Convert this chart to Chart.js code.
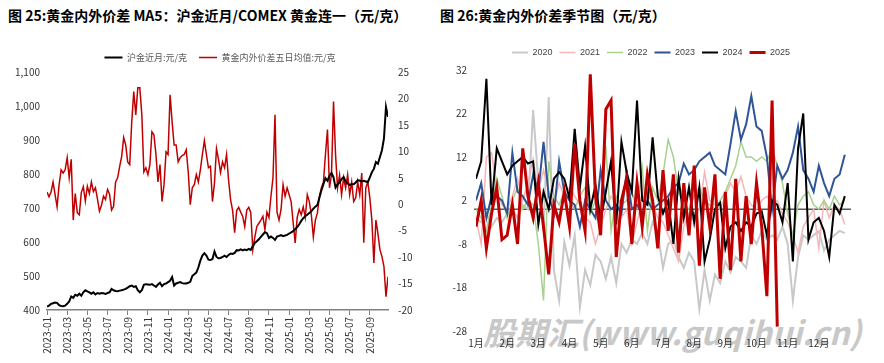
<!DOCTYPE html>
<html>
<head>
<meta charset="utf-8">
<script src="https://cdn.jsdelivr.net/npm/chart.js@4.4.1/dist/chart.umd.min.js"></script>
<style>
    body { margin: 0; background: #fff; width: 884px; height: 363px; position: relative; overflow: hidden; font-family: "Noto Sans CJK SC", sans-serif; }
    .title { position: absolute; top: 5px; font-size: 14px; font-weight: bold; color: #000; white-space: nowrap; }
    .box { position: absolute; top: 38px; height: 325px; }
    #wm { position: absolute; left: 483px; top: 308px; font-size: 32px; font-weight: bold; font-style: italic; color: #c8c8c8; white-space: nowrap; }
</style>
</head>
<body>
<div id="wm">股期汇(www.guqihui.cn)</div>
<div class="title" style="left:8px">图 25:黄金内外价差 MA5：沪金近月/COMEX 黄金连一（元/克）</div>
<div class="title" style="left:440px">图 26:黄金内外价差季节图（元/克）</div>
<div class="box" style="left:0;width:440px"><canvas id="spreadChart"></canvas></div>
<div class="box" style="left:452px;width:432px"><canvas id="seasonChart"></canvas></div>

<script>
// 图25: 从2023-01起每0.2个月一个点
const sampleStep = 0.2;
const shGoldNear = [
    410, 413, 418, 420, 422, 421, 414, 412, 411, 413,
    418, 425, 440, 436, 445, 442, 448, 442, 452, 458,
    455, 452, 448, 452, 446, 450, 448, 450, 449, 447,
    450, 452, 462, 458, 456, 455, 457, 458, 460, 462,
    466, 470, 472, 468, 470, 458, 452, 458, 474, 476,
    475, 474, 476, 472, 468, 475, 480, 470, 476, 478,
    482, 486, 497, 472, 478, 480, 482, 479, 478, 478,
    480, 483, 500, 505, 510, 525, 545, 560, 567, 560,
    548, 547, 550, 572, 556, 552, 553, 556, 560, 556,
    562, 566, 565, 568, 576, 575, 578, 575, 578, 576,
    580, 577, 588, 597, 602, 608, 615, 622, 629, 626,
    612, 616, 612, 606, 616, 618, 620, 617, 619, 621,
    625, 628, 632, 638, 644, 652, 662, 670, 676, 680,
    685, 690, 698, 704, 709, 730, 752, 770, 788, 780,
    795, 803, 790, 760, 770, 775, 785, 791, 778, 772,
    768, 770, 770, 775, 782, 780, 778, 780, 778, 776,
    790, 805, 815, 835, 830, 850, 870, 905, 997, 968
];
const spreadMA5 = [
    2.3, 1.4, 2.3, 4.2, 1.8, -0.5, 3.7, 6.5, 5.9, 6.5,
    8.8, 5.0, 8.5, -3.0, 2.0, -1.6, -2.0, 2.2, 3.3, 0.6,
    3.4, 2.0, 4.2, 2.4, 3.1, 1.0, -1.3, -0.2, 1.5, 0.9,
    2.8, 1.9, -1.1, -0.4, 4.2, 5.0, 7.1, 9.0, 12.6, 11.2,
    8.0, 7.5, 15.6, 21.3, 16.9, 22.0, 22.0, 16.9, 6.1, 6.9,
    5.6, 7.5, 13.7, 13.1, 9.4, 4.2, 7.5, 0.5, 3.7, 9.9,
    9.4, 20.7, 15.6, 11.2, 11.2, 8.0, 8.8, 9.2, 9.4, 10.3,
    6.1, -0.1, 3.1, 3.7, 5.6, 4.2, 6.5, 9.4, 12.0, 9.4,
    6.9, 7.2, 0.5, 4.0, 10.5, 8.5, 6.0, 8.0, 6.9, 9.4,
    4.5, 0.8, -1.2, -5.4, -1.2, -0.6, -1.5, -2.3, -4.2, -1.1,
    -0.6, -1.6, -8.6, -6.2, -4.2, -3.6, -3.0, -2.3, -4.8, -1.5,
    -2.5, 1.5, 5.0, 16.9, -1.5, -3.0, -1.0, 3.7, 1.5, 3.1,
    1.8, 0.5, -3.5, -7.3, -2.5, -1.0, -2.0, -0.5, -2.5, 1.8,
    0.5, -2.0, -6.2, -3.0, -1.7, 1.5, 3.1, 4.2, 9.4, 14.1,
    3.1, 5.6, 19.4, 9.4, 3.1, 5.5, 1.8, 5.0, 3.1, 5.6,
    1.8, 4.2, 0.5, 1.2, 4.2, 1.8, 5.9, -7.3, 3.1, 4.2,
    1.2, -3.0, -11.1, -3.0, -5.5, -8.6, -9.9, -11.8, -17.5, -13.7
];
const monthTicks = [0, 2, 4, 6, 8, 10, 12, 14, 16, 18, 20, 22, 24, 26, 28, 30, 32];

// 图26: 每月6个点
const seasonStep = 1 / 6;
const seasonLabels = ['2020', '2021', '2022', '2023', '2024', '2025'];
const seasonColors = ['#c8c8c8', '#f4b6b6', '#a9d18e', '#2f5597', '#000000', '#c00000'];
const seasonWidths = [2, 1.5, 1.5, 2, 2, 3];
const y2020 = [
    -2, -3, -1, -4, -2, -3, -1, 0, -2, 1, 0, 22.8,
    6, -5, 25.8, -14, -21, -7.5, -13, -6, -22.5, -14, -17.5, -10.5,
    -12, -16, -11, -17, -8, -10, -7, -8, -5.5, -8, -3, -5.5,
    -13.5, -8, -7, -11, -13.5, -10, -12, -23, -14, -21, -15, -17,
    -12, -14.5, -11, -12, -13.5, -6, -8, -5, -7, -6, -7, -4,
    -8, -21, -11, -6, -7, -6, -5, -9.5, -7, -6, -5, -5.5
];
const y2021 = [
    -2, -8, 12, 13, 4, 1, 0, 3, 7, 2, 6, 11.5,
    4, 9, 4, 1, 6, 3, 5, 3, 1, -2, -3, -8,
    -4, 0, 3, 1, -2, 0, -8, -3, 2, 4, 1, -2,
    -3, -6, -9, -12, -4, -1, -3, 0, 8.5, 2, 1, 0,
    3, 6, 4, 7.5, 3, 1, 0, 2, 3, 1, 2, -1,
    -3, -6, -10, -4, -2, 0, -9, 2, -2, 1, 0, -3.5
];
const y2022 = [
    0, -2, -5, 1, 7, 3, -2, 2, 5, 0, 2, 1,
    -8, -21, 11, 3, 1, 4, 2, 0, 3, 5, -1, 2,
    -1, 14.5, -5, 3, 1, 2, 4, 0, 9.5, -5, 5, 2,
    8, 16, 12, 4, 1, 0, 3, 5, 2, 1, 0, 2,
    4, 7, 10, 15.5, 12, 12, 11, 12, 11, 14, 10, 6,
    -1, -6, 1, 3, 4, 1, 0, 2, 0, 3, 1, 2
];
const y2023 = [
    2, 6, -2, 3, 3, 2, -1, 13, 4, 3, 1, 8,
    4, 15.5, 3, -1, 11, 4, 2, 1, -4, 2, 0, -2,
    9, 2, 0, 1, -1, 8.5, 0, 1, -1, 2, 0, 1,
    2, 3, 5, 6, 10.5, 8, 9, 11, 12, 13, 10, 9,
    8, 15, 22.5, 16, 19.5, 26, 19, 18, 12, 0, 10, 7,
    9, 13, 19, 9, 7, 4, 10, 6, 3, 7, 8, 12.5
];
const y2024 = [
    7, 11, 30, 1, 14, 11, 8, 10, 11, 12, 10.5, 11,
    -3.5, 4, 0, 7, 8.5, 7, 2.5, 18.5, 5, 14.5, 0, 5.5,
    -2.5, 4, 11, -3.5, 15.5, 8.5, 4, 25, 2, 1, 16.5, 3,
    -1, 2, -8, 7, -2, 5, -3, 5, -12, -7, 0, 1.5,
    -9, -4, -3, -5, -3, -4, -1, -0.5, -6, 2, 1, -3,
    6, -12, 14, 22, -7, -3, -2, -5, -11, 1, -1, 3
];
const y2025 = [
    -4, 2, -9, -1, 5, -7, -6, 1, -8, 14, 3, -2,
    6, -4, -15, 1, -3, 4, -4, 15, 2, -5, 31, 3,
    -6, 23, 25, -11, 2, 7, -8, 6, -4, 8, 2, -9,
    9, -5, 8, -10, 6, -6, 10, -13, 5, -4, 8, -16,
    4, -14, 7, -12, 3, -8, 6, -4, -20, 25, -27
];
const seasonValues = [y2020, y2021, y2022, y2023, y2024, y2025];
const monthNames = ['1月', '2月', '3月', '4月', '5月', '6月', '7月', '8月', '9月', '10月', '11月', '12月'];

const tickFont = { family: '"Liberation Sans Narrow", "Noto Sans CJK SC", sans-serif', size: 10 };
const tickColor = '#333333';

function toPoints(values, step) {
    return values.map((v, i) => ({ x: i * step, y: v }));
}

new Chart(document.getElementById('spreadChart'), {
    type: 'line',
    data: {
        datasets: [
            {
                label: '沪金近月:元/克',
                data: toPoints(shGoldNear, sampleStep),
                borderColor: '#000000',
                backgroundColor: '#000000',
                borderWidth: 2,
                yAxisID: 'y',
            },
            {
                label: '黄金内外价差五日均值:元/克',
                data: toPoints(spreadMA5, sampleStep),
                borderColor: '#c00000',
                backgroundColor: '#c00000',
                borderWidth: 1.5,
                yAxisID: 'y1',
            },
        ],
    },
    options: {
        responsive: true,
        maintainAspectRatio: false,
        animation: false,
        elements: { point: { radius: 0 }, line: { tension: 0 } },
        layout: { padding: { top: 3, left: 0, right: 0, bottom: 0 } },
        plugins: {
            tooltip: { enabled: false },
            legend: {
                position: 'top',
                labels: {
                    font: { family: '"Noto Sans CJK SC", sans-serif', size: 9 },
                    color: '#595959',
                    usePointStyle: true,
                    pointStyle: 'line',
                    pointStyleWidth: 18,
                    padding: 12,
                },
            },
        },
        scales: {
            x: {
                type: 'linear',
                min: 0,
                max: 33.8,
                afterBuildTicks: (scale) => { scale.ticks = monthTicks.map(v => ({ value: v })); },
                afterFit: (scale) => { scale.height = 53; },
                ticks: {
                    font: tickFont,
                    color: tickColor,
                    minRotation: 90,
                    maxRotation: 90,
                    padding: 2,
                    callback: (v) => {
                        const y = 2023 + Math.floor(v / 12);
                        const m = (v % 12) + 1;
                        return `${y}-${String(m).padStart(2, '0')}`;
                    },
                },
                grid: { drawOnChartArea: false, tickLength: 5, color: '#808080' },
                border: { color: '#808080', width: 1.5 },
            },
            y: {
                position: 'left',
                min: 400,
                max: 1100,
                afterFit: (scale) => { scale.width = 47; },
                ticks: { stepSize: 100, font: tickFont, color: tickColor, padding: 7 },
                grid: { display: false, drawTicks: false },
                border: { display: false },
            },
            y1: {
                position: 'right',
                min: -20,
                max: 25,
                afterFit: (scale) => { scale.width = 52; },
                ticks: { stepSize: 5, font: tickFont, color: tickColor, padding: 10 },
                grid: { display: false, drawTicks: false },
                border: { display: false },
            },
        },
    },
});

// 0 轴线
const zeroLine = {
    id: 'zeroLine',
    beforeDatasetsDraw(chart) {
        const { ctx, chartArea, scales } = chart;
        const y = scales.y.getPixelForValue(0);
        ctx.save();
        ctx.strokeStyle = '#595959';
        ctx.lineWidth = 1.5;
        ctx.beginPath();
        ctx.moveTo(chartArea.left - 2, y);
        ctx.lineTo(chartArea.right + 1, y);
        ctx.stroke();
        ctx.restore();
    },
};

// 图例下方多留一点空
const legendGap = {
    id: 'legendGap',
    afterInit(chart) {
        if (!chart.legend) return;
        const fit = chart.legend.fit;
        chart.legend.fit = function () {
            fit.call(this);
            this.height += 3;
        };
    },
};

new Chart(document.getElementById('seasonChart'), {
    type: 'line',
    data: {
        datasets: seasonLabels.map((label, k) => ({
            label: label,
            data: toPoints(seasonValues[k], seasonStep),
            borderColor: seasonColors[k],
            backgroundColor: seasonColors[k],
            borderWidth: seasonWidths[k],
            order: seasonLabels.length - k,
        })),
    },
    options: {
        responsive: true,
        maintainAspectRatio: false,
        animation: false,
        elements: { point: { radius: 0 }, line: { tension: 0 } },
        layout: { padding: { top: 3, left: 0, right: 34, bottom: 0 } },
        plugins: {
            tooltip: { enabled: false },
            legend: {
                position: 'top',
                labels: {
                    font: { family: '"Liberation Sans Narrow", sans-serif', size: 9 },
                    color: '#404040',
                    usePointStyle: true,
                    pointStyle: 'line',
                    pointStyleWidth: 16,
                    padding: 7,
                    sort: (a, b) => a.datasetIndex - b.datasetIndex,
                },
            },
        },
        scales: {
            x: {
                type: 'linear',
                min: 0,
                max: 12,
                afterBuildTicks: (scale) => { scale.ticks = monthNames.map((_, i) => ({ value: i })); },
                afterFit: (scale) => { scale.height = 32; },
                ticks: {
                    font: tickFont,
                    color: tickColor,
                    maxRotation: 0,
                    padding: 6,
                    callback: (v) => monthNames[v],
                },
                grid: { display: false, drawTicks: false },
                border: { display: false },
            },
            y: {
                min: -28,
                max: 32,
                afterFit: (scale) => { scale.width = 24; },
                ticks: { stepSize: 10, font: tickFont, color: tickColor, padding: 9 },
                grid: { display: false, drawTicks: false },
                border: { display: false },
            },
        },
    },
    plugins: [zeroLine, legendGap],
});
</script>
</body>
</html>
